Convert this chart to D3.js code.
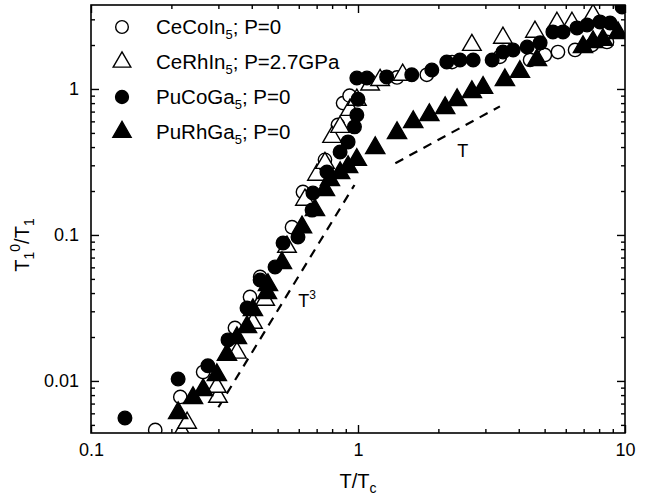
<!DOCTYPE html>
<html><head><meta charset="utf-8">
<script src="https://cdn.jsdelivr.net/npm/d3@7"></script>
<style>body{margin:0;background:#fff;} text{font-family:"Liberation Sans",Arial,sans-serif;}</style>
</head><body><svg id="c" width="650" height="500"></svg>
<script>
// Data (x = T/Tc, y = T1^0/T1)
const ceCoInX = [0.174,0.216,0.263,0.346,0.394,0.430,0.566,0.622,0.752,0.841,0.879,0.93,1.1,1.4,1.81,2.25,3.40,4.41,5.01,5.61,6.50,7.52,8.56];
const ceCoInY = [0.00462,0.00777,0.0115,0.0231,0.0376,0.0516,0.113,0.197,0.327,0.567,0.80,0.9,1.15,1.2,1.25,1.53,1.66,1.58,1.71,1.79,1.85,2.0,2.10];
const ceRhInX = [0.219,0.229,0.299,0.296,0.352,0.404,0.449,0.542,0.633,0.702,0.752,0.80,0.857,0.933,0.99,1.11,1.21,1.47,2.67,3.49,4.60,5.56,6.33,7.59];
const ceRhInY = [0.00448,0.00516,0.00777,0.0091,0.0156,0.0250,0.0359,0.0828,0.174,0.258,0.311,0.469,0.549,0.718,0.841,1.07,1.15,1.25,2.0,2.24,2.46,2.83,2.83,3.21];
const puCoGaX = [0.134,0.212,0.274,0.326,0.384,0.430,0.489,0.524,0.596,0.673,0.678,0.765,0.857,0.918,0.97,0.99,1.0,0.99,1.08,1.28,1.59,1.89,2.15,2.41,2.70,3.18,3.49,3.81,4.30,4.81,5.37,5.86,6.61,7.21,8.06,8.79,9.75];
const puCoGaY = [0.00558,0.0103,0.0127,0.0191,0.0316,0.0492,0.0604,0.0881,0.0969,0.148,0.194,0.270,0.370,0.434,0.55,0.664,0.85,1.19,1.19,1.21,1.25,1.35,1.53,1.58,1.58,1.58,1.79,1.85,1.94,2.07,2.46,2.46,2.62,2.74,2.88,2.83,3.65];
const puRhGaX = [0.212,0.241,0.263,0.296,0.323,0.352,0.384,0.404,0.456,0.46,0.519,0.617,0.690,0.752,0.785,0.857,0.918,0.99,1.16,1.40,1.61,1.85,2.12,2.35,2.67,2.94,3.55,4.04,4.68,6.96,7.59,8.27,9.41];
const puRhGaY = [0.00604,0.00765,0.00867,0.0110,0.0151,0.0197,0.0234,0.0306,0.0401,0.0455,0.0643,0.113,0.148,0.203,0.238,0.266,0.292,0.327,0.394,0.50,0.594,0.664,0.741,0.841,0.954,1.02,1.15,1.31,1.58,1.94,2.10,2.17,2.42];
// Guide lines (endpoints)
const cubeX = [0.30, 0.97], cubeY = [0.0066, 0.22];
const linX = [1.38, 3.4], linY = [0.31, 0.76];
const xMajor = [0.1, 1, 10];
const xMajorLabels = ["0.1", "1", "10"];
const yMajor = [0.01, 0.1, 1];
const yMajorLabels = ["0.01", "0.1", "1"];

const svg = d3.select("#c");
const L = 91, R = 625, T = 5, B = 433;
const x = d3.scaleLog().domain([0.1, 10]).range([L, R]);
const y = d3.scaleLog().domain([0.0044, 3.76]).range([B, T]);

const xMinor = [], yMinor = [];
[0.1, 1].forEach(d => { for (let k = 2; k <= 9; k++) xMinor.push(d * k); });
[0.001, 0.01, 0.1, 1].forEach(d => { for (let k = 2; k <= 9; k++) { const v = d * k; if (v > 0.0044 && v < 3.76) yMinor.push(v); } });

function styleAxis(g) { g.select(".domain").remove(); g.selectAll("line").attr("stroke", "#000").attr("stroke-width", 1.4); g.selectAll("text").attr("font-size", 18).attr("fill", "#000").attr("font-family", "Liberation Sans, Arial, sans-serif"); }

svg.append("g").attr("transform", `translate(0,${B})`).call(d3.axisBottom(x).tickValues(xMajor).tickFormat((d, i) => xMajorLabels[i]).tickSize(-8).tickPadding(10)).call(styleAxis);
svg.append("g").attr("transform", `translate(0,${B})`).call(d3.axisBottom(x).tickValues(xMinor).tickFormat("").tickSize(-4)).call(styleAxis);
svg.append("g").attr("transform", `translate(0,${T})`).call(d3.axisTop(x).tickValues(xMajor).tickFormat("").tickSize(-8)).call(styleAxis);
svg.append("g").attr("transform", `translate(0,${T})`).call(d3.axisTop(x).tickValues(xMinor).tickFormat("").tickSize(-4)).call(styleAxis);
svg.append("g").attr("transform", `translate(${L},0)`).call(d3.axisLeft(y).tickValues(yMajor).tickFormat((d, i) => yMajorLabels[i]).tickSize(-8).tickPadding(12)).call(styleAxis);
svg.append("g").attr("transform", `translate(${L},0)`).call(d3.axisLeft(y).tickValues(yMinor).tickFormat("").tickSize(-4)).call(styleAxis);
svg.append("g").attr("transform", `translate(${R},0)`).call(d3.axisRight(y).tickValues(yMajor).tickFormat("").tickSize(-8)).call(styleAxis);
svg.append("g").attr("transform", `translate(${R},0)`).call(d3.axisRight(y).tickValues(yMinor).tickFormat("").tickSize(-4)).call(styleAxis);

svg.append("defs").append("clipPath").attr("id", "clip").append("rect").attr("x", L).attr("y", T).attr("width", R - L).attr("height", B - T);
const plot = svg.append("g").attr("clip-path", "url(#clip)");

const line = d3.line().x(d => x(d[0])).y(d => y(d[1]));
plot.append("path").attr("d", line(d3.zip(cubeX, cubeY))).attr("fill", "none").attr("stroke", "#000").attr("stroke-width", 2.2).attr("stroke-dasharray", "9,7");
plot.append("path").attr("d", line(d3.zip(linX, linY))).attr("fill", "none").attr("stroke", "#000").attr("stroke-width", 2.2).attr("stroke-dasharray", "9,7");

const series = [
  {xs: ceCoInX, ys: ceCoInY, type: d3.symbolCircle, size: 140, filled: false, name: "CeCoIn", rest: "; P=0"},
  {xs: ceRhInX, ys: ceRhInY, type: d3.symbolTriangle, size: 150, filled: false, name: "CeRhIn", rest: "; P=2.7GPa"},
  {xs: puCoGaX, ys: puCoGaY, type: d3.symbolCircle, size: 145, filled: true, name: "PuCoGa", rest: "; P=0"},
  {xs: puRhGaX, ys: puRhGaY, type: d3.symbolTriangle, size: 160, filled: true, name: "PuRhGa", rest: "; P=0"}
];
series.forEach(s => {
  plot.append("g").selectAll("path").data(d3.zip(s.xs, s.ys)).join("path")
    .attr("transform", d => `translate(${x(d[0])},${y(d[1])})`)
    .attr("d", d3.symbol().type(s.type).size(s.size))
    .attr("fill", s.filled ? "#000" : "#fff").attr("stroke", "#000").attr("stroke-width", 1.4);
});

// Frame
svg.append("rect").attr("x", L).attr("y", T).attr("width", R - L).attr("height", B - T).attr("fill", "none").attr("stroke", "#000").attr("stroke-width", 1.6);

// Guide labels
const tl = svg.append("text").attr("x", x(0.644)).attr("y", y(0.036) + 7).attr("font-size", 18).attr("text-anchor", "middle");
tl.append("tspan").text("T");
tl.append("tspan").attr("dy", -8).attr("font-size", 12).text("3");
svg.append("text").attr("x", x(2.47)).attr("y", y(0.382) + 7).attr("font-size", 18).attr("text-anchor", "middle").text("T");

// Legend
const rows = [27, 62, 97, 132];
series.forEach((s, i) => {
  svg.append("path").attr("transform", `translate(122,${rows[i]})`).attr("d", d3.symbol().type(s.type).size(s.size * 0.9))
    .attr("fill", s.filled ? "#000" : "#fff").attr("stroke", "#000").attr("stroke-width", 1.4);
  const t = svg.append("text").attr("x", 156).attr("y", rows[i] + 7).attr("font-size", 20.5);
  t.append("tspan").text(s.name);
  t.append("tspan").attr("dy", 5).attr("font-size", 13).text("5");
  t.append("tspan").attr("dy", -5).text(s.rest);
});

// Axis titles
const xt = svg.append("text").attr("x", 358).attr("y", 488).attr("font-size", 20).attr("text-anchor", "middle");
xt.append("tspan").text("T/T");
xt.append("tspan").attr("dy", 5).attr("font-size", 14).text("c");
const yt = svg.append("text").attr("transform", "translate(29,245) rotate(-90)").attr("font-size", 20).attr("text-anchor", "middle");
yt.append("tspan").text("T");
yt.append("tspan").attr("dy", 5).attr("font-size", 14).text("1");
yt.append("tspan").attr("dy", -14).attr("font-size", 14).text("0");
yt.append("tspan").attr("dy", 9).text("/T");
yt.append("tspan").attr("dy", 5).attr("font-size", 14).text("1");
</script></body></html>
